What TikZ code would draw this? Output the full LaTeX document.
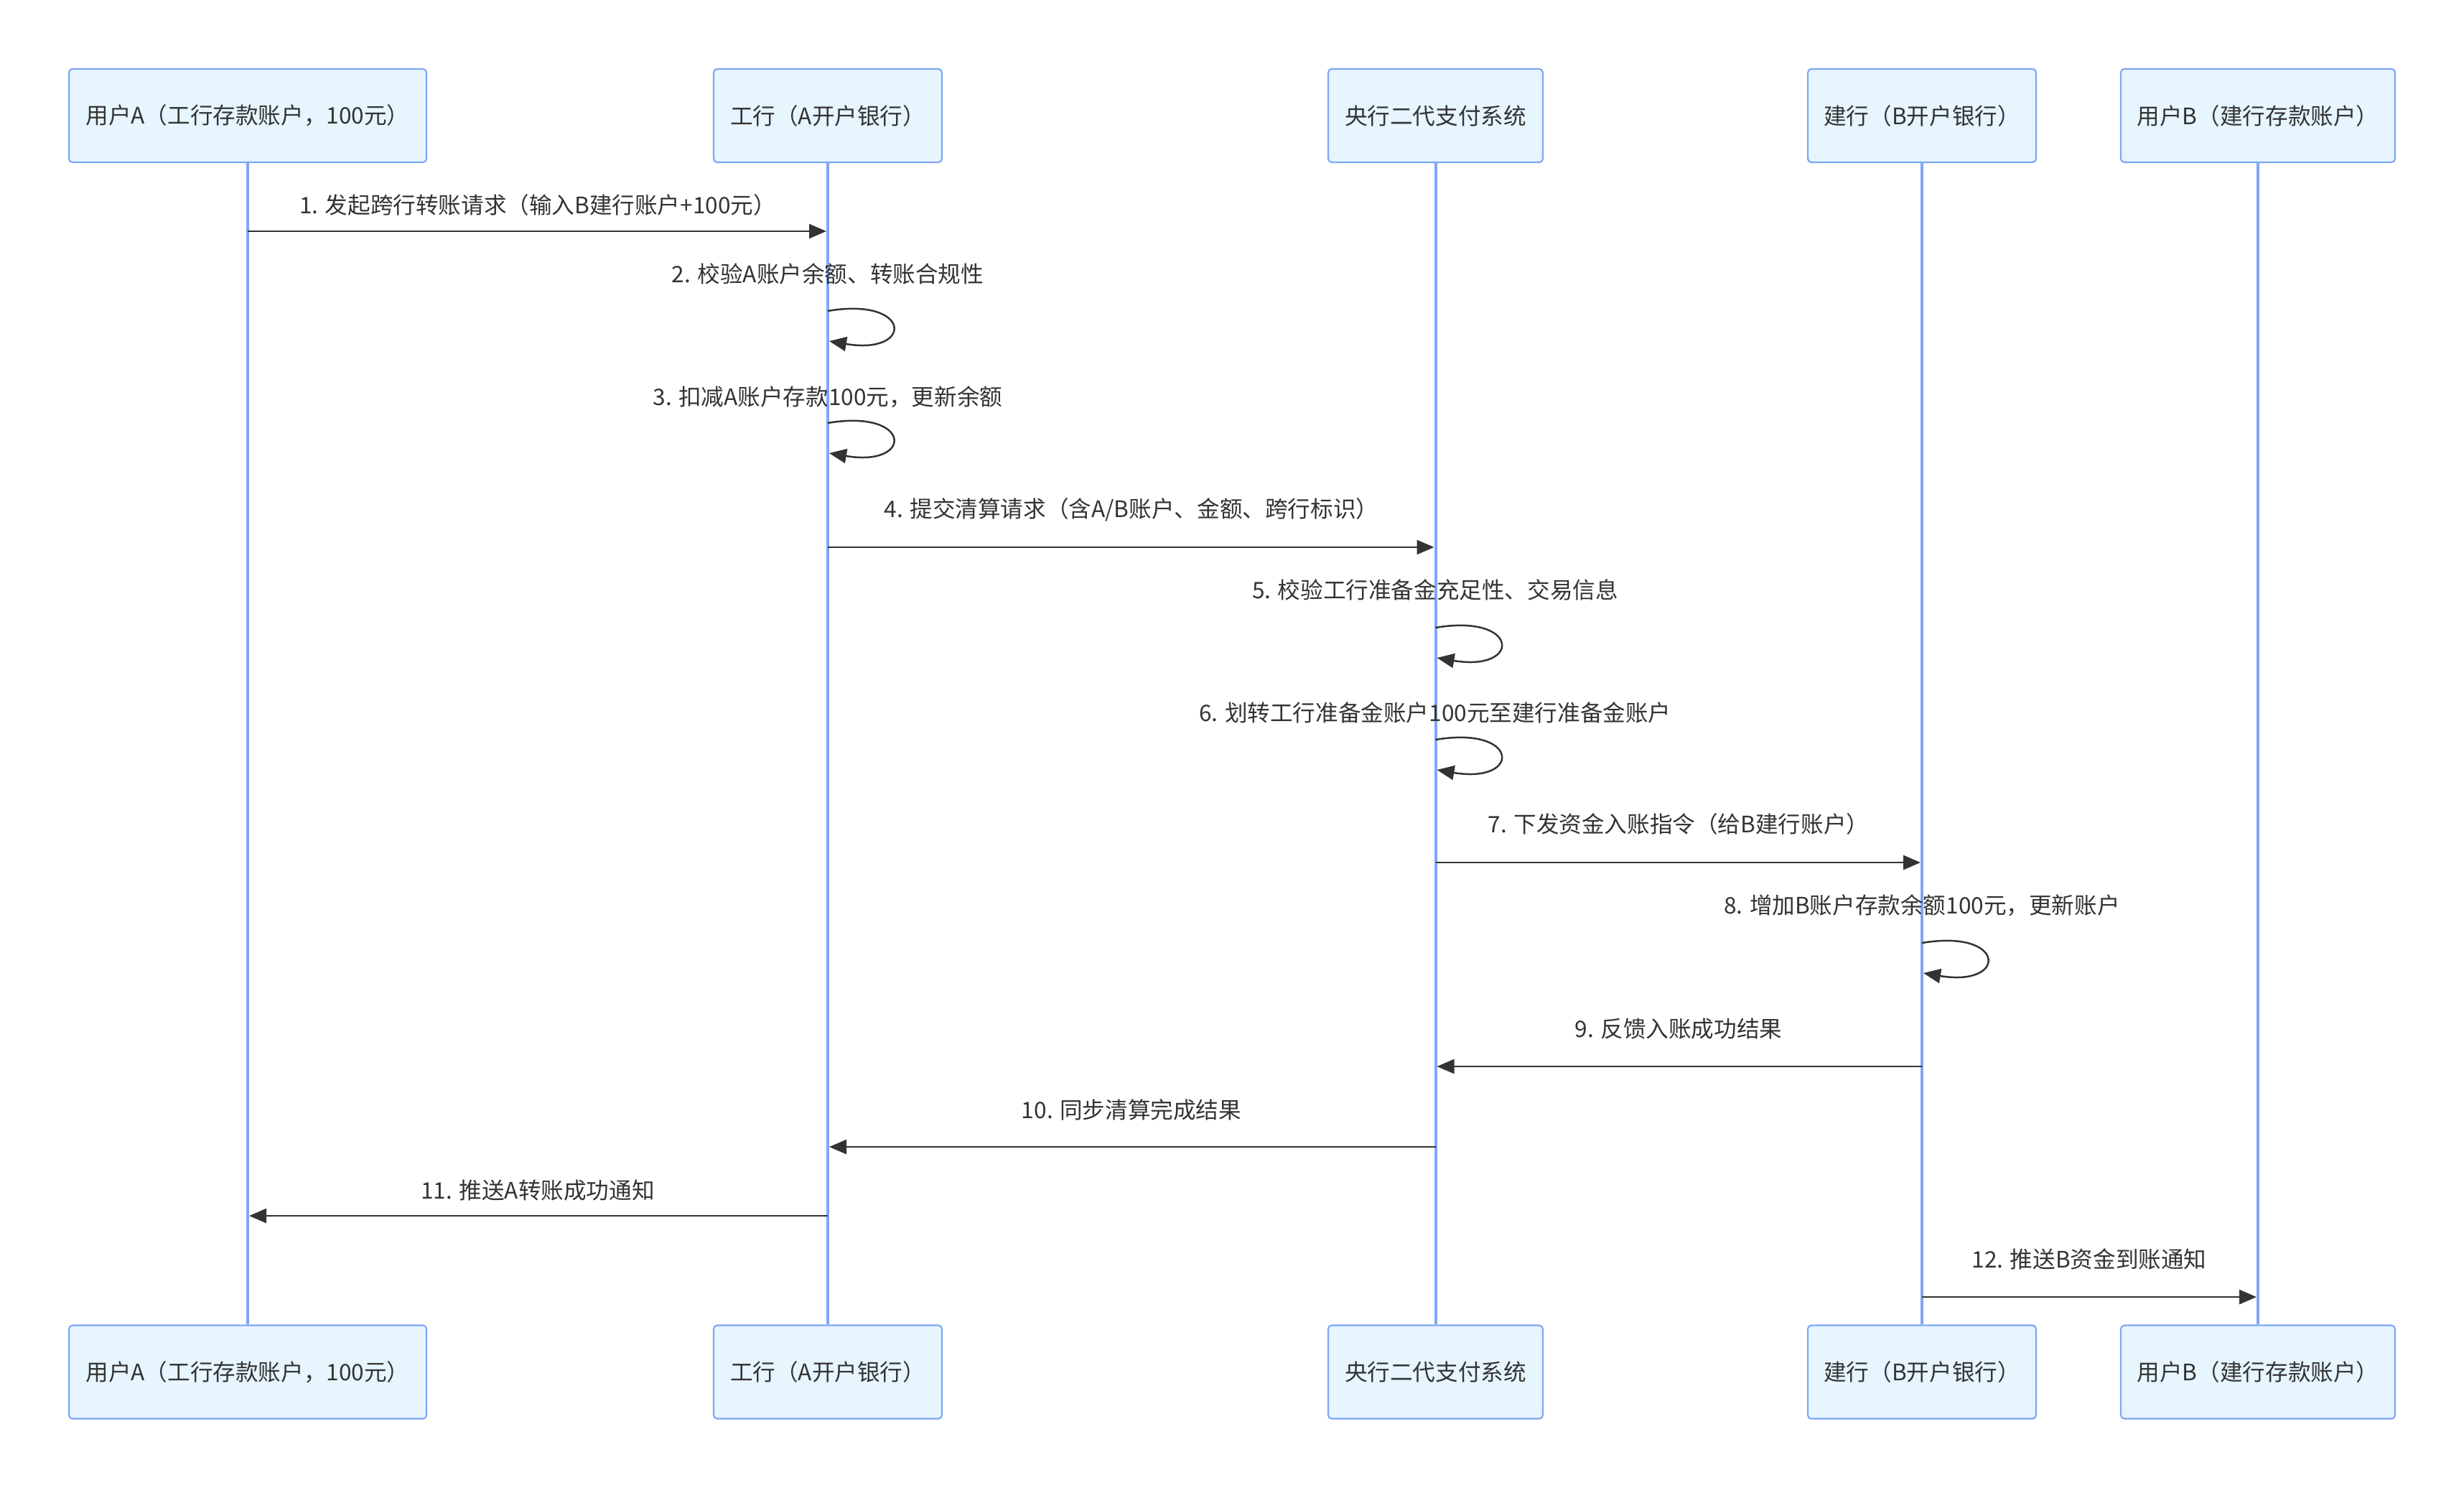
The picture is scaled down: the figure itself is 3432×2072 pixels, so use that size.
\documentclass[tikz,border=0pt]{standalone}
\usepackage{fontspec}
\setmainfont{Noto Sans CJK SC}
\usetikzlibrary{arrows.meta}
\definecolor{txt}{HTML}{333333}
\definecolor{boxfill}{HTML}{E6F5FE}
\definecolor{boxline}{HTML}{7EA7F6}
\definecolor{lifeblue}{HTML}{7EA7F6}
\definecolor{msgline}{HTML}{333333}
\begin{document}
\begin{tikzpicture}[x=0.5pt,y=-0.5pt,
  actor/.style={draw=boxline, line width=1.1pt, fill=boxfill, rounded corners=2.5pt,
    minimum height=65pt, inner sep=0pt, text=txt, font=\fontsize{15.8pt}{18pt}\selectfont},
  life/.style={draw=lifeblue, line width=2pt},
  msg/.style={draw=msgline, line width=1.25pt, -{Triangle[length=12pt,width=10pt]}},
  lbl/.style={text=txt, inner sep=0pt, anchor=base, font=\fontsize{15.8pt}{18pt}\selectfont},
]
\useasboundingbox (0,0) rectangle (3432,2072);
\fill[white] (0,0) rectangle (3432,2072);

% top actors
\node[actor, minimum width=249pt] (aT) at (345,161) {用户A（工行存款账户，100元）};
\node[actor, minimum width=159pt] (iT) at (1153,161) {工行（A开户银行）};
\node[actor, minimum width=149.5pt] (cT) at (1999.5,161) {央行二代支付系统};
\node[actor, minimum width=159pt] (bT) at (2677,161) {建行（B开户银行）};
\node[actor, minimum width=191pt] (uT) at (3145,161) {用户B（建行存款账户）};
% bottom actors
\node[actor, minimum width=249pt] (aB) at (345,1910.5) {用户A（工行存款账户，100元）};
\node[actor, minimum width=159pt] (iB) at (1153,1910.5) {工行（A开户银行）};
\node[actor, minimum width=149.5pt] (cB) at (1999.5,1910.5) {央行二代支付系统};
\node[actor, minimum width=159pt] (bB) at (2677,1910.5) {建行（B开户银行）};
\node[actor, minimum width=191pt] (uB) at (3145,1910.5) {用户B（建行存款账户）};

% lifelines
\draw[life] (aT.south) -- (aB.north);
\draw[life] (iT.south) -- (iB.north);
\draw[life] (cT.south) -- (cB.north);
\draw[life] (bT.south) -- (bB.north);
\draw[life] (uT.south) -- (uB.north);

% message 1
\node[lbl] (l1) at (749,297) {1. 发起跨行转账请求（输入B建行账户+100元）};
\draw[msg] (aT |- 0,322) -- ([xshift=-1pt]iT |- 0,322);
% message 2 (self)
\node[lbl] (l2) at (1153,393) {2. 校验A账户余额、转账合规性};
\draw[msg] (iT |- 0,433) .. controls +(118,-20) and +(118,20) .. ([xshift=1pt]iT |- 0,475);
% message 3 (self)
\node[lbl] (l3) at (1153,564) {3. 扣减A账户存款100元，更新余额};
\draw[msg] (iT |- 0,589) .. controls +(118,-20) and +(118,20) .. ([xshift=1pt]iT |- 0,631);
% message 4
\node[lbl] (l4) at (1576,720) {4. 提交清算请求（含A/B账户、金额、跨行标识）};
\draw[msg] (iT |- 0,762) -- ([xshift=-1pt]cT |- 0,762);
% message 5 (self)
\node[lbl] (l5) at (1999,833) {5. 校验工行准备金充足性、交易信息};
\draw[msg] (cT |- 0,874) .. controls +(118,-20) and +(118,20) .. ([xshift=1pt]cT |- 0,916);
% message 6 (self)
\node[lbl] (l6) at (1999,1004) {6. 划转工行准备金账户100元至建行准备金账户};
\draw[msg] (cT |- 0,1030) .. controls +(118,-20) and +(118,20) .. ([xshift=1pt]cT |- 0,1072);
% message 7
\node[lbl] (l7) at (2338,1159) {7. 下发资金入账指令（给B建行账户）};
\draw[msg] (cT |- 0,1201) -- ([xshift=-1pt]bT |- 0,1201);
% message 8 (self)
\node[lbl] (l8) at (2677,1272) {8. 增加B账户存款余额100元，更新账户};
\draw[msg] (bT |- 0,1313) .. controls +(118,-20) and +(118,20) .. ([xshift=1pt]bT |- 0,1355);
% message 9
\node[lbl] (l9) at (2338,1444) {9. 反馈入账成功结果};
\draw[msg] (bT |- 0,1485) -- ([xshift=1pt]cT |- 0,1485);
% message 10
\node[lbl] (l10) at (1576,1557) {10. 同步清算完成结果};
\draw[msg] (cT |- 0,1597) -- ([xshift=1pt]iT |- 0,1597);
% message 11
\node[lbl] (l11) at (749,1669) {11. 推送A转账成功通知};
\draw[msg] (iT |- 0,1693) -- ([xshift=1pt]aT |- 0,1693);
% message 12
\node[lbl] (l12) at (2910,1765) {12. 推送B资金到账通知};
\draw[msg] (bT |- 0,1806) -- ([xshift=-1pt]uT |- 0,1806);
\end{tikzpicture}
\end{document}
